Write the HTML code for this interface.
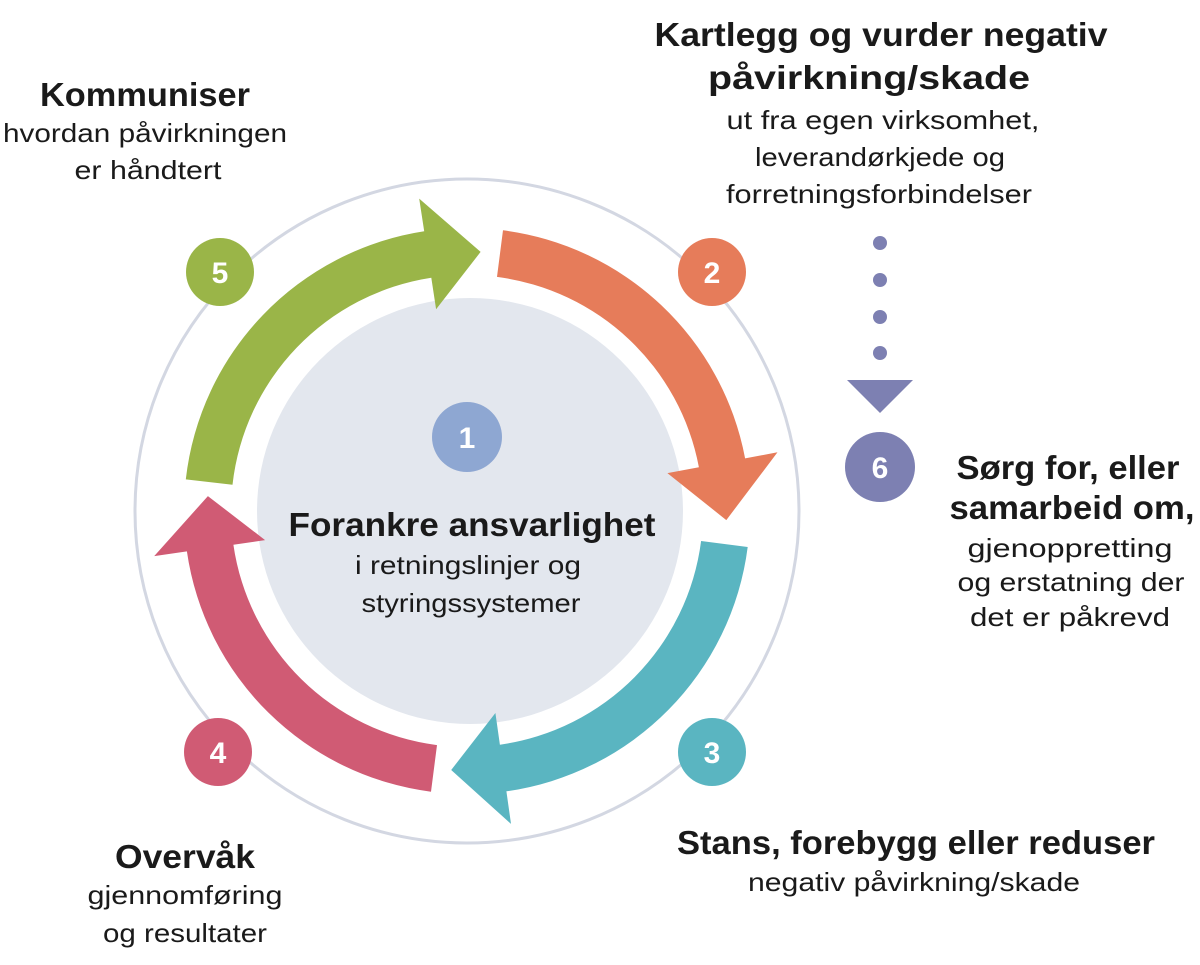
<!DOCTYPE html>
<html><head><meta charset="utf-8"><style>
html,body{margin:0;padding:0;background:#fff;}
svg{display:block;}
text{font-family:"Liberation Sans",sans-serif;fill:#1a1a1a;}
.b{font-weight:bold;font-size:33px;}
.n{font-size:26px;}
.num{font-weight:bold;font-size:30px;fill:#fff;}
</style></head><body>
<svg width="1200" height="965" viewBox="0 0 1200 965" xmlns="http://www.w3.org/2000/svg">
<circle cx="467" cy="511" r="332" fill="none" stroke="#d3d7e2" stroke-width="3"/>
<circle cx="470" cy="511" r="213" fill="#e3e7ee"/>
<path d="M185.8,479.4 A283,283 0 0 1 424.2,231.3 L419.2,198.6 L480.6,251.9 L436.1,309.3 L431.3,277.7 A236,236 0 0 0 232.5,484.7 Z" fill="#9ab548"/>
<path d="M503.0,230.3 A283,283 0 0 1 745.1,458.4 L777.5,452.3 L726.3,520.1 L667.4,473.1 L698.9,467.2 A236,236 0 0 0 497.0,276.9 Z" fill="#e67c5a"/>
<path d="M747.7,547.0 A283,283 0 0 1 506.4,791.3 L511.0,823.9 L451.2,770.0 L495.4,713.0 L499.9,744.7 A236,236 0 0 0 701.1,541.0 Z" fill="#5ab5c1"/>
<path d="M431.0,791.7 A283,283 0 0 1 186.9,551.4 L154.2,556.1 L207.9,496.1 L265.1,540.1 L233.4,544.7 A236,236 0 0 0 437.0,745.1 Z" fill="#d05b74"/>

<circle cx="220" cy="272" r="34" fill="#9ab548"/><text class="num" x="220" y="283" text-anchor="middle">5</text>
<circle cx="712" cy="272" r="34" fill="#e67c5a"/><text class="num" x="712" y="283" text-anchor="middle">2</text>
<circle cx="712" cy="752" r="34" fill="#5ab5c1"/><text class="num" x="712" y="763" text-anchor="middle">3</text>
<circle cx="218" cy="752" r="34" fill="#d05b74"/><text class="num" x="218" y="763" text-anchor="middle">4</text>
<circle cx="467" cy="437" r="35" fill="#8ea7d2"/><text class="num" x="467" y="448" text-anchor="middle">1</text>

<circle cx="880" cy="243" r="7" fill="#7d80b2"/>
<circle cx="880" cy="280" r="7" fill="#7d80b2"/>
<circle cx="880" cy="317" r="7" fill="#7d80b2"/>
<circle cx="880" cy="353" r="7" fill="#7d80b2"/>
<polygon points="847,380 913,380 880,413" fill="#7d80b2"/>
<circle cx="880" cy="467" r="35" fill="#7d80b2"/><text class="num" x="880" y="478" text-anchor="middle">6</text>

<g lengthAdjust="spacingAndGlyphs">
<text class="b" x="145" y="106" text-anchor="middle" textLength="210" lengthAdjust="spacingAndGlyphs">Kommuniser</text>
<text class="n" x="145" y="142" text-anchor="middle" textLength="284" lengthAdjust="spacingAndGlyphs">hvordan påvirkningen</text>
<text class="n" x="148" y="179" text-anchor="middle" textLength="147" lengthAdjust="spacingAndGlyphs">er håndtert</text>

<text class="b" x="881" y="46" text-anchor="middle" textLength="453" lengthAdjust="spacingAndGlyphs">Kartlegg og vurder negativ</text>
<text class="b" x="869" y="89" text-anchor="middle" textLength="322" lengthAdjust="spacingAndGlyphs">påvirkning/skade</text>
<text class="n" x="883" y="129" text-anchor="middle" textLength="313" lengthAdjust="spacingAndGlyphs">ut fra egen virksomhet,</text>
<text class="n" x="880" y="166" text-anchor="middle" textLength="250" lengthAdjust="spacingAndGlyphs">leverandørkjede og</text>
<text class="n" x="879" y="203" text-anchor="middle" textLength="306" lengthAdjust="spacingAndGlyphs">forretningsforbindelser</text>

<text class="b" x="1068" y="479" text-anchor="middle" textLength="223" lengthAdjust="spacingAndGlyphs">Sørg for, eller</text>
<text class="b" x="1072" y="519" text-anchor="middle" textLength="245" lengthAdjust="spacingAndGlyphs">samarbeid om,</text>
<text class="n" x="1070" y="557" text-anchor="middle" textLength="205" lengthAdjust="spacingAndGlyphs">gjenoppretting</text>
<text class="n" x="1071" y="591" text-anchor="middle" textLength="227" lengthAdjust="spacingAndGlyphs">og erstatning der</text>
<text class="n" x="1070" y="626" text-anchor="middle" textLength="200" lengthAdjust="spacingAndGlyphs">det er påkrevd</text>

<text class="b" x="472" y="536" text-anchor="middle" textLength="367" lengthAdjust="spacingAndGlyphs">Forankre ansvarlighet</text>
<text class="n" x="468" y="574" text-anchor="middle" textLength="226" lengthAdjust="spacingAndGlyphs">i retningslinjer og</text>
<text class="n" x="471" y="612" text-anchor="middle" textLength="219" lengthAdjust="spacingAndGlyphs">styringssystemer</text>

<text class="b" x="916" y="854" text-anchor="middle" textLength="478" lengthAdjust="spacingAndGlyphs">Stans, forebygg eller reduser</text>
<text class="n" x="914" y="891" text-anchor="middle" textLength="332" lengthAdjust="spacingAndGlyphs">negativ påvirkning/skade</text>

<text class="b" x="185" y="868" text-anchor="middle" textLength="140" lengthAdjust="spacingAndGlyphs">Overvåk</text>
<text class="n" x="185" y="904" text-anchor="middle" textLength="195" lengthAdjust="spacingAndGlyphs">gjennomføring</text>
<text class="n" x="185" y="942" text-anchor="middle" textLength="164" lengthAdjust="spacingAndGlyphs">og resultater</text>
</g>
</svg>
</body></html>
